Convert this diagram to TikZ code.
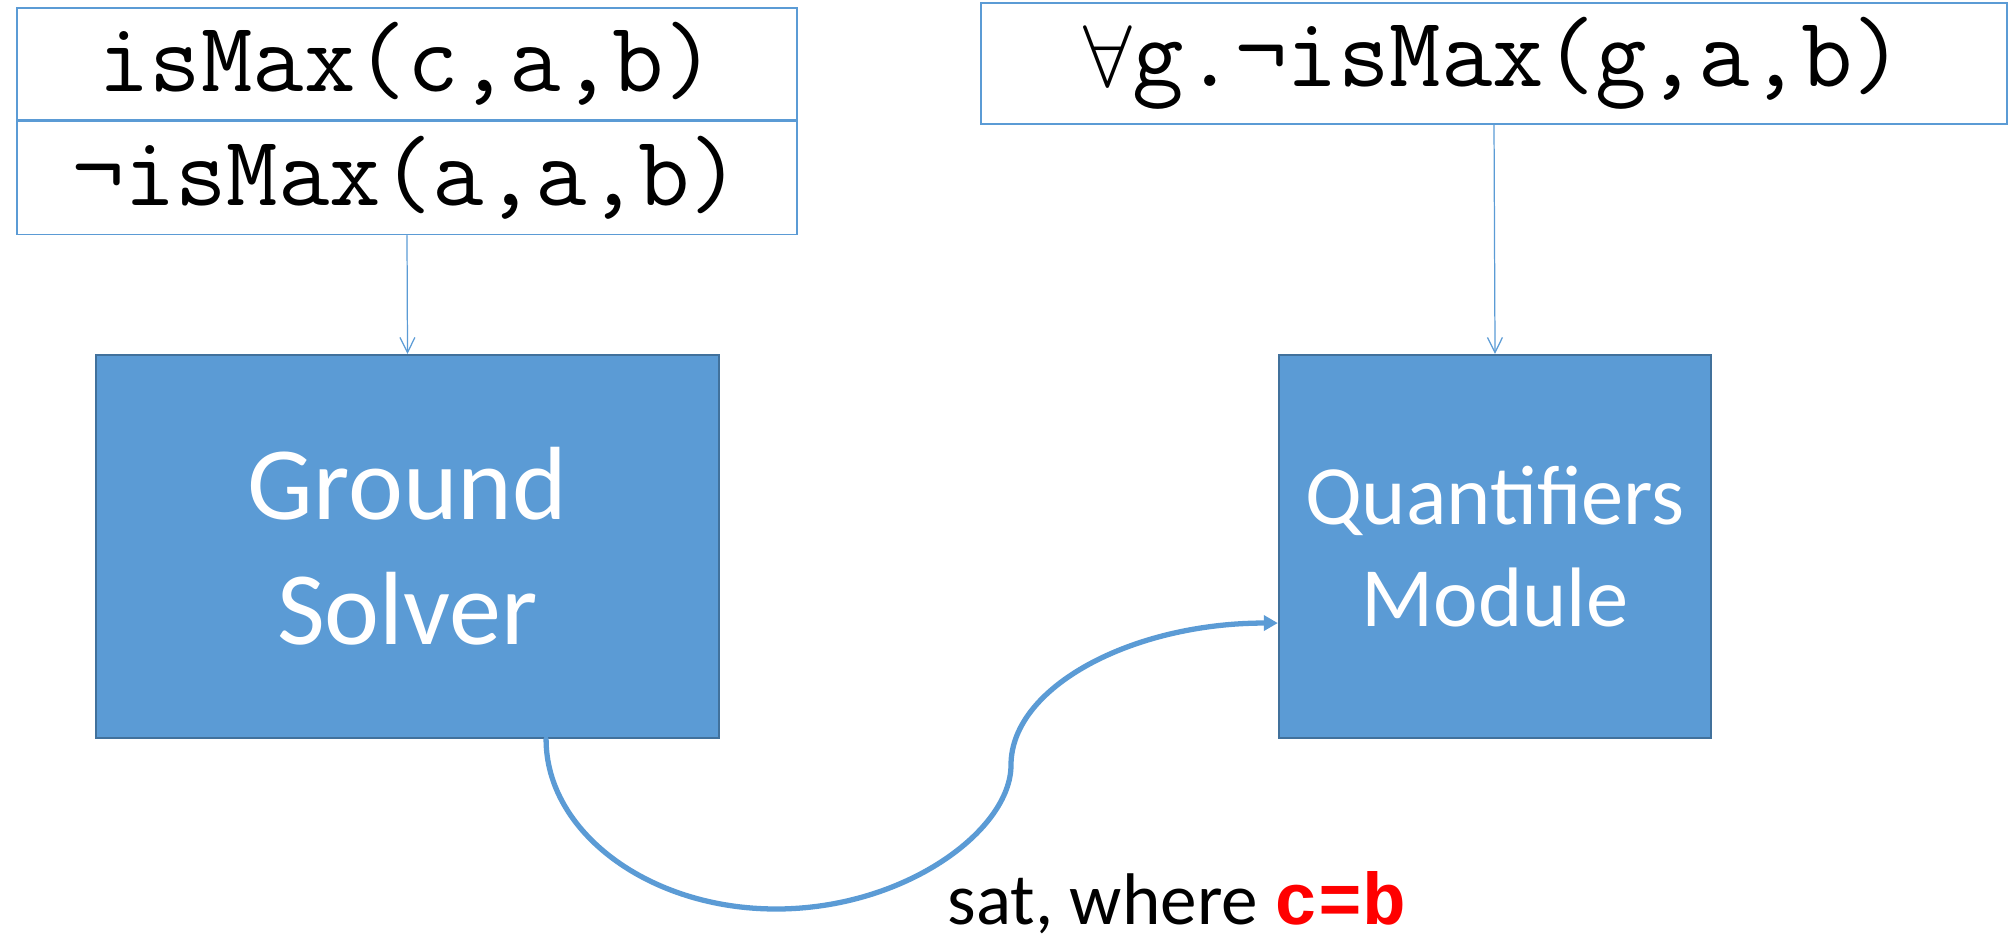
\documentclass[tikz,border=0pt]{standalone}
\usepackage{fontspec}
\setmainfont{Carlito}
\newfontfamily\boldmono{Liberation Mono}
\usetikzlibrary{arrows.meta}
\definecolor{boxblue}{HTML}{5B9BD5}
\definecolor{edgeblue}{HTML}{41719C}

\begin{document}
\begin{tikzpicture}[x=0.01cm, y=-0.01cm, line cap=round,
	formula/.style={draw=boxblue, line width=0.45pt, fill=white, inner sep=0pt,
		font=\fontsize{28.4}{33}\ttfamily},
	module/.style={draw=edgeblue, line width=0.6pt, fill=boxblue, text=white,
		inner sep=0pt, minimum height=3.83cm, align=center},
	feed/.style={draw=boxblue, line width=0.35pt, -{Straight Barb[length=1.5mm, width=1.5mm]}},
	flow/.style={draw=boxblue, line width=1.5pt, -{Triangle[length=1.4mm, width=1.5mm]}}]
	% -------- Canvas (pixel units, y down) --------
	\useasboundingbox (0,0) rectangle (2010,940);
	
	% Ground facts (two stacked cells)
	\node[formula, minimum width=7.8cm, minimum height=1.12cm] (cond1) at (407,64) {isMax(c,a,b)};
	\node[formula, minimum width=7.8cm, minimum height=1.13cm, anchor=north] (cond2) at (cond1.south) {¬isMax(a,a,b)};
	
	% Quantified fact
	\node[formula, minimum width=10.25cm, minimum height=1.21cm] (goal) at (1494,63.5) {$\forall$g.¬isMax(g,a,b)};
	
	% Solver modules
	\node[module, minimum width=6.23cm, font=\fontsize{29.6}{35.5}\selectfont] (gs) at (407.5,546.5) {Ground\\Solver};
	\node[module, minimum width=4.32cm, font=\fontsize{24}{28.8}\selectfont] (qm) at (1495,546.5) {Quantifiers\\Module};
	
	% Inputs
	\draw[feed] (cond2.south) -- (gs.north);
	\draw[feed] (goal.south) -- (qm.north);
	
	% Model handed over (curved connector)
	\coordinate (gsout) at ([xshift=1.385cm]gs.south);
	\coordinate (qmin) at ([yshift=-0.765cm]qm.west);
	\draw[flow] (gsout) .. controls (546,832) and (649,909) .. (776,909)
		.. controls (905,909) and (1011,830) .. (1011,765)
		.. controls (1011,687) and (1132,623) .. (qmin);
	\node[anchor=base, font=\fontsize{20.8}{25}\selectfont] (satlbl) at (1177,924)
		{sat, where \textcolor{red}{\boldmono\bfseries c=b}};
\end{tikzpicture}
\end{document}
